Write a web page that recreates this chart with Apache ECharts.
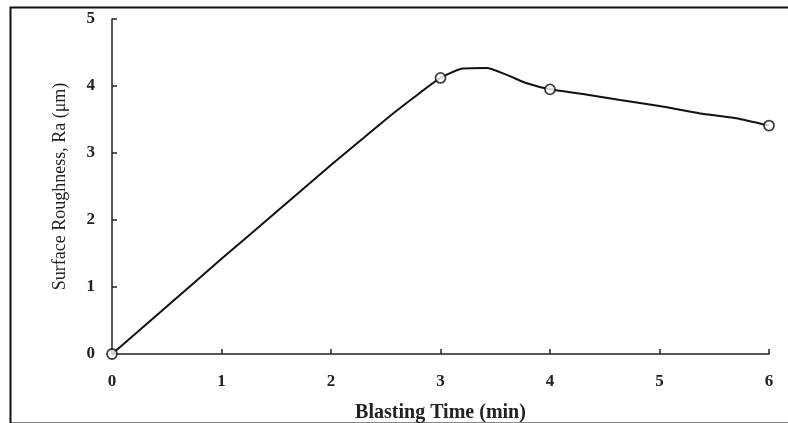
<!DOCTYPE html>
<html>
<head>
<meta charset="utf-8">
<script src="https://cdn.jsdelivr.net/npm/echarts@6/dist/echarts.min.js"></script>
<style>html,body{margin:0;padding:0;background:#fff;}#c{width:788px;height:423px;}</style>
</head>
<body>
<div id="c"></div>
<script>
// Curve traced through the measurements (blasting time in min, Ra in µm)
const curveX = [0, 0.5, 1, 1.5, 2, 2.5, 2.75, 3, 3.2, 3.42, 3.6, 3.79, 4, 4.3, 4.64, 5, 5.37, 5.7, 6];
const curveY = [0, 0.71, 1.42, 2.12, 2.82, 3.5, 3.82, 4.12, 4.26, 4.27, 4.17, 4.04, 3.95, 3.88, 3.79, 3.70, 3.59, 3.52, 3.41];
// Measured points (hollow markers)
const markerX = [0, 3, 4, 6];
const markerY = [0, 4.12, 3.95, 3.41];
const xTicks = [0, 1, 2, 3, 4, 5, 6];
const yTicks = [0, 1, 2, 3, 4, 5];
const xTitle = 'Blasting Time (min)';
const yTitle = 'Surface Roughness, Ra (\u03bcm)';

const chart = echarts.init(document.getElementById('c'), null, {renderer: 'canvas'});
const serif = '"Liberation Serif", "DejaVu Serif", serif';
chart.setOption({
  animation: false,
  backgroundColor: '#fff',
  graphic: [{
    type: 'rect', left: 8, top: 5, silent: true,
    shape: {x: 0, y: 0, width: 800, height: 416},
    style: {fill: 'none', stroke: '#111', lineWidth: 2}
  }],
  grid: {left: 112, right: 19, top: 19, bottom: 69, containLabel: false, outerBoundsMode: 'none'},
  xAxis: {
    type: 'value', min: xTicks[0], max: xTicks[xTicks.length - 1], interval: 1,
    name: xTitle, nameLocation: 'middle', nameGap: 49,
    nameTextStyle: {fontFamily: serif, fontSize: 20, fontWeight: 'bold', color: '#222'},
    axisLine: {show: true, onZero: false, lineStyle: {color: '#222', width: 1.5}},
    axisTick: {show: true, inside: true, length: 5, lineStyle: {color: '#222', width: 1.5}},
    axisLabel: {fontFamily: serif, fontSize: 17, fontWeight: 'bold', color: '#222', margin: 19},
    splitLine: {show: false}
  },
  yAxis: {
    type: 'value', min: yTicks[0], max: yTicks[yTicks.length - 1], interval: 1,
    name: yTitle, nameLocation: 'middle', nameGap: 43,
    nameTextStyle: {fontFamily: serif, fontSize: 18, color: '#222'},
    axisLine: {show: true, onZero: false, lineStyle: {color: '#222', width: 1.5}},
    axisTick: {show: true, inside: true, length: 5, lineStyle: {color: '#222', width: 1.5}},
    axisLabel: {fontFamily: serif, fontSize: 17, fontWeight: 'bold', color: '#222', margin: 17},
    splitLine: {show: false}
  },
  series: [{
    type: 'line',
    data: curveX.map((x, i) => [x, curveY[i]]),
    showSymbol: false, symbol: 'none', smooth: 0.2,
    lineStyle: {color: '#111', width: 2},
    z: 2
  }, {
    type: 'scatter',
    data: markerX.map((x, i) => [x, markerY[i]]),
    symbol: 'circle', symbolSize: 10,
    itemStyle: {color: '#fff', borderColor: '#111', borderWidth: 1.8},
    z: 3
  }]
});
</script>
</body>
</html>
